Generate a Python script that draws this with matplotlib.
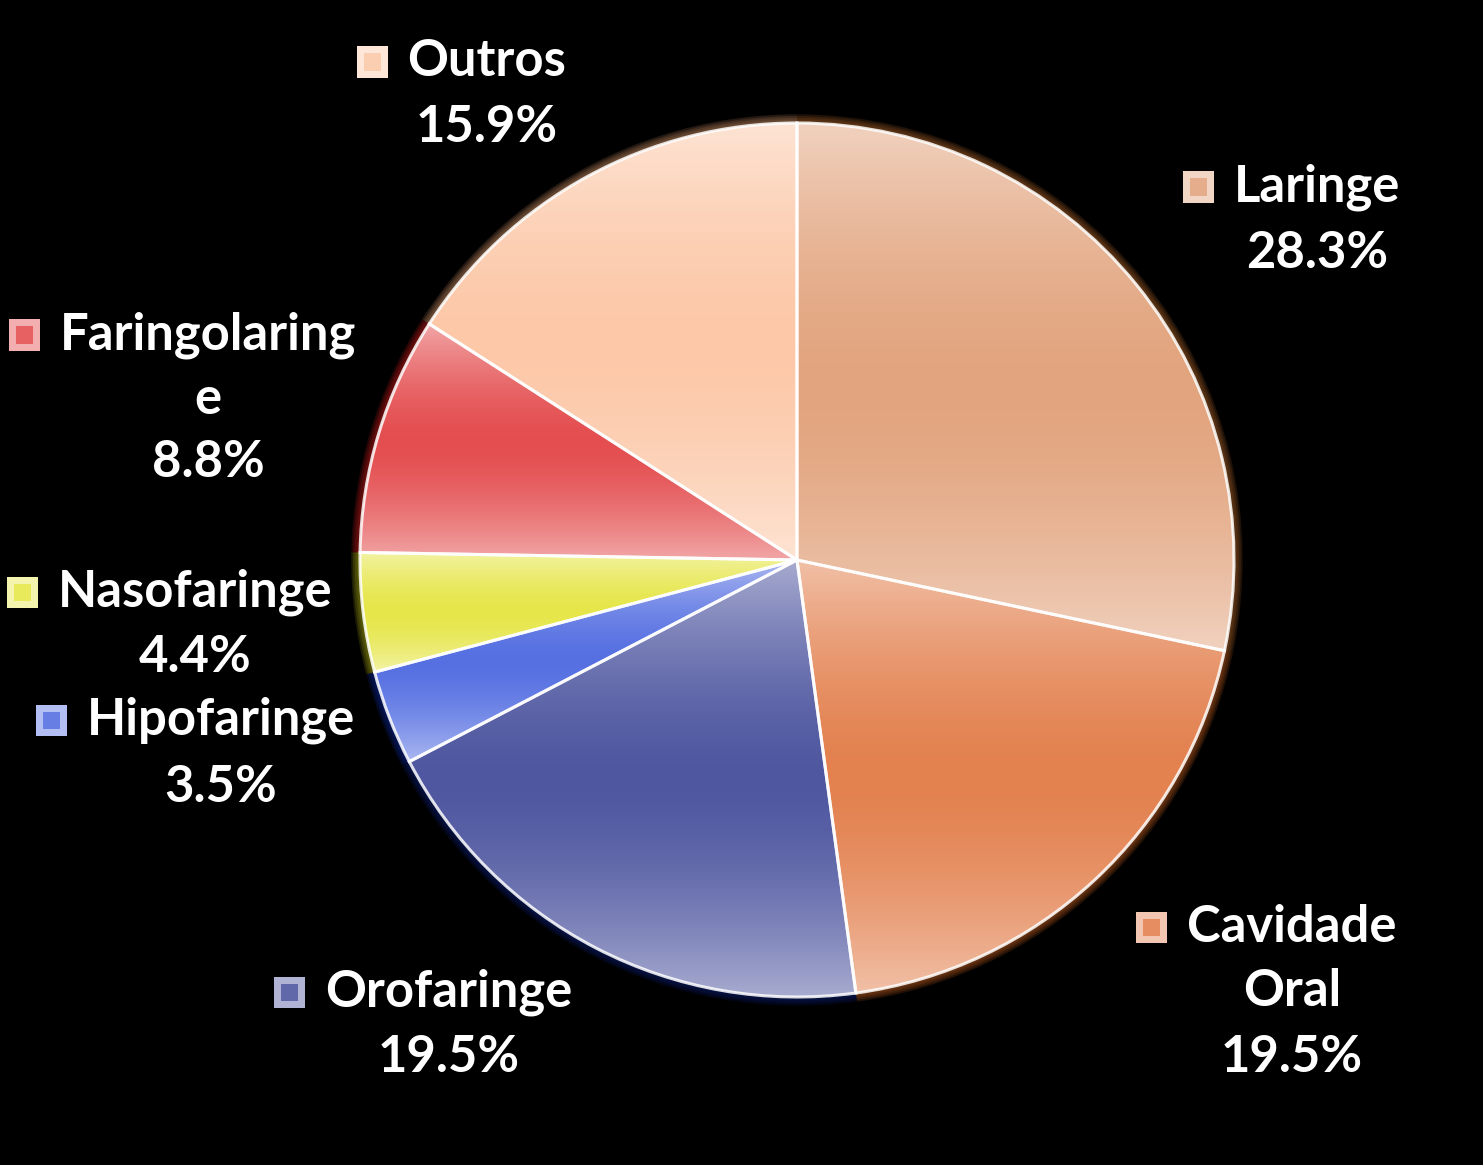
import numpy as np
import matplotlib
matplotlib.use("Agg")
import matplotlib.pyplot as plt
from matplotlib.patches import Rectangle, Wedge
from matplotlib.colors import to_rgb

# ---- data ----
categories = ["Laringe", "Cavidade Oral", "Orofaringe", "Hipofaringe",
              "Nasofaringe", "Faringolaringe", "Outros"]
values = [28.3, 19.5, 19.5, 3.5, 4.4, 8.8, 15.9]
label_lines = [["Laringe"], ["Cavidade", "Oral"], ["Orofaringe"], ["Hipofaringe"],
               ["Nasofaringe"], ["Faringolaring", "e"], ["Outros"]]
colors = ["#E2A47E", "#E3814F", "#4F57A0", "#5670E2", "#E6E64A", "#E44E50", "#FCC8A8"]
glow_colors = ["#8A4E22", "#9A4A1A", "#0A1A60", "#0A2080", "#8A8A10", "#A01515", "#A07050"]

# label block layout (pixel centres: x, first line y, percent line y)
W, H = 1483, 1165
label_pos = {
    "Laringe": (1317, 187, 253),
    "Cavidade Oral": (1292, 927, 1057),
    "Orofaringe": (449, 992, 1057),
    "Hipofaringe": (221, 720, 787),
    "Nasofaringe": (195, 592, 658),
    "Faringolaringe": (208, 335, 463),
    "Outros": (487, 62, 128),
}
line_gap = 64

fig = plt.figure(figsize=(W / 100, H / 100), dpi=100)
fig.patch.set_facecolor("black")

cx, cy, R = 797, 560, 437
pad = 1.12
ax = fig.add_axes([(cx - R * pad) / W, 1 - (cy + R * pad) / H, 2 * R * pad / W, 2 * R * pad / H])
ax.set_facecolor("black")
ax.set_xlim(-pad, pad)
ax.set_ylim(-pad, pad)
ax.set_aspect("equal")
ax.axis("off")

# glow layers
for k in range(5, 0, -1):
    r = 1.0 + k * 0.004
    ax.pie(values, startangle=90, counterclock=False, radius=r,
           colors=glow_colors, wedgeprops=dict(linewidth=0, alpha=0.22))

wedges, _ = ax.pie(values, startangle=90, counterclock=False, radius=1.0,
                   colors=colors, wedgeprops=dict(linewidth=0))

# per-wedge vertical gradient: lighter at top and bottom
for w, c in zip(wedges, colors):
    bb = w.get_path().get_extents(w.get_patch_transform())
    n = 256
    t = np.linspace(0, 1, n)
    light = 0.5 * np.abs(2 * t - 1) ** 1.6
    base = np.array(to_rgb(c))
    col = base[None, :] * (1 - light[:, None]) + light[:, None]
    img = np.repeat(col[:, None, :], 4, axis=1)
    im = ax.imshow(img, extent=[bb.x0, bb.x1, bb.y0, bb.y1], origin="upper",
                   aspect="auto", interpolation="bilinear", zorder=2)
    im.set_clip_path(w)

# edge highlight
for w in wedges:
    e = Wedge(w.center, w.r, w.theta1, w.theta2, facecolor="none",
              edgecolor="white", linewidth=2.2, alpha=0.85, zorder=3)
    ax.add_patch(e)
ax.set_xlim(-pad, pad)
ax.set_ylim(-pad, pad)

# labels
fs = 36.5
font = dict(family=["Lato", "DejaVu Sans"], fontweight="bold", color="white", fontsize=fs)
fig.canvas.draw()
renderer = fig.canvas.get_renderer()
for cat, lines, v, c in zip(categories, label_lines, values, colors):
    xc, y1, yp = label_pos[cat]
    first = fig.text(xc / W, 1 - y1 / H, lines[0], ha="center", va="center", **font)
    for j, ln in enumerate(lines[1:], start=1):
        fig.text(xc / W, 1 - (y1 + j * line_gap) / H, ln, ha="center", va="center", **font)
    fig.text(xc / W, 1 - yp / H, f"{v:.1f}%", ha="center", va="center", **font)
    # bevelled legend square
    bb = first.get_window_extent(renderer=renderer)
    sq = 31
    sx = bb.x0 - 20 - sq
    sy = (H - y1) - sq / 2
    base = np.array(to_rgb(c))
    lite = base * 0.45 + 0.55
    fig.patches.append(Rectangle((sx / W, sy / H), sq / W, sq / H, transform=fig.transFigure,
                                 facecolor=lite, edgecolor="none", figure=fig))
    ins = 7
    fig.patches.append(Rectangle(((sx + ins) / W, (sy + ins) / H), (sq - 2 * ins) / W,
                                 (sq - 2 * ins) / H, transform=fig.transFigure,
                                 facecolor=base * 0.9 + 0.1, edgecolor="none", figure=fig))

fig.savefig("out.png", dpi=100, facecolor="black")
